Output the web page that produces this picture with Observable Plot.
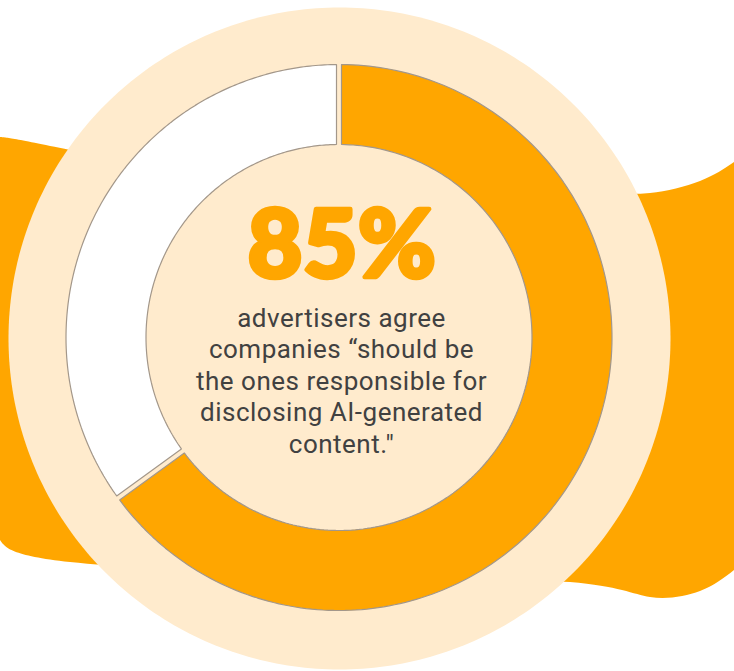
<!DOCTYPE html>
<html>
<head>
<meta charset="utf-8">
<script src="https://cdn.jsdelivr.net/npm/d3@7"></script>
<script src="https://cdn.jsdelivr.net/npm/@observablehq/plot@0.6"></script>
<style>
  html, body { margin: 0; padding: 0; background: #ffffff; }
  #chart svg { display: block; }
</style>
</head>
<body>
<div id="chart"></div>
<script>
// ---- data ----
const segments = ["Agree", "Other"];
const shares = [65, 35];
const segmentColors = ["#FFA600", "#FFFFFF"];
const headline = ["85%"];
const bodyLines = [
  "advertisers agree",
  "companies \u201cshould be",
  "the ones responsible for",
  "disclosing AI-generated",
  "content.\""
];

// ---- layout ----
const W = 734, H = 671;
const cx = 338.5, cy = 337;
const R = 273, r = 193, gap = 5;
const ringCx = 339, ringCy = 338, ringR = 331;
const orange = "#FFA600", cream = "#FFEBCD";
const bodySize = 26, bodyStep = 31.4;

// decorative wave band behind (layout, not data)
const bandX = [0, 70, 340, 570, 650, 700, 734];
const bandTop = [137, 150, 196, 196, 193, 181, 162];
const bandBot = [540, 562, 576, 582, 597, 591, 570];
const band = bandX.map((x, i) => ({x, y1: bandTop[i], y2: bandBot[i]}));

// cream ring disc polygon
const disc = d3.range(0, 361, 1).map(a => {
  const t = a * Math.PI / 180;
  return {x: ringCx + ringR * Math.sin(t), y: ringCy - ringR * Math.cos(t)};
});

// donut slices as polygons
const pie = d3.pie().sort(null).value(d => d)(shares);
const slicePts = [];
pie.forEach((p, i) => {
  const name = segments[i];
  const dO = Math.asin(gap / 2 / R), dI = Math.asin(gap / 2 / r);
  const n = 200;
  const pts = [];
  for (let k = 0; k <= n; k++) {
    const t = (p.startAngle + dO) + (p.endAngle - p.startAngle - 2 * dO) * k / n;
    pts.push({name, x: cx + R * Math.sin(t), y: cy - R * Math.cos(t)});
  }
  for (let k = n; k >= 0; k--) {
    const t = (p.startAngle + dI) + (p.endAngle - p.startAngle - 2 * dI) * k / n;
    pts.push({name, x: cx + r * Math.sin(t), y: cy - r * Math.cos(t)});
  }
  pts.push({...pts[0]});
  slicePts.push(...pts);
});

const chart = Plot.plot({
  width: W,
  height: H,
  margin: 0,
  x: {domain: [0, W], range: [0, W], axis: null},
  y: {domain: [0, H], range: [0, H], axis: null},
  color: {domain: segments, range: segmentColors},
  style: {background: "#ffffff", overflow: "visible", letterSpacing: "0.5px"},
  marks: [
    Plot.areaY(band, {x: "x", y1: "y1", y2: "y2", curve: "natural", fill: orange}),
    Plot.line(disc, {x: "x", y: "y", fill: cream, stroke: "none"}),
    Plot.line(slicePts, {x: "x", y: "y", z: "name", fill: "name", stroke: "#a3978a", strokeWidth: 1.2, strokeLinejoin: "miter"}),
    Plot.text(headline, {
      x: () => 341.5, y: () => 276.5, text: d => d,
      fontFamily: "Lato", fontWeight: 900, fontSize: 94,
      fill: orange, stroke: orange, strokeWidth: 4.5, strokeLinejoin: "round",
      textAnchor: "middle", lineAnchor: "bottom"
    }),
    Plot.text(bodyLines, {
      x: () => 341, y: (d, i) => 326.5 + i * bodyStep, text: d => d,
      fontFamily: "Roboto", fontSize: bodySize,
      fill: "#414141", textAnchor: "middle", lineAnchor: "bottom"
    })
  ]
});
document.getElementById("chart").appendChild(chart);
</script>
</body>
</html>
